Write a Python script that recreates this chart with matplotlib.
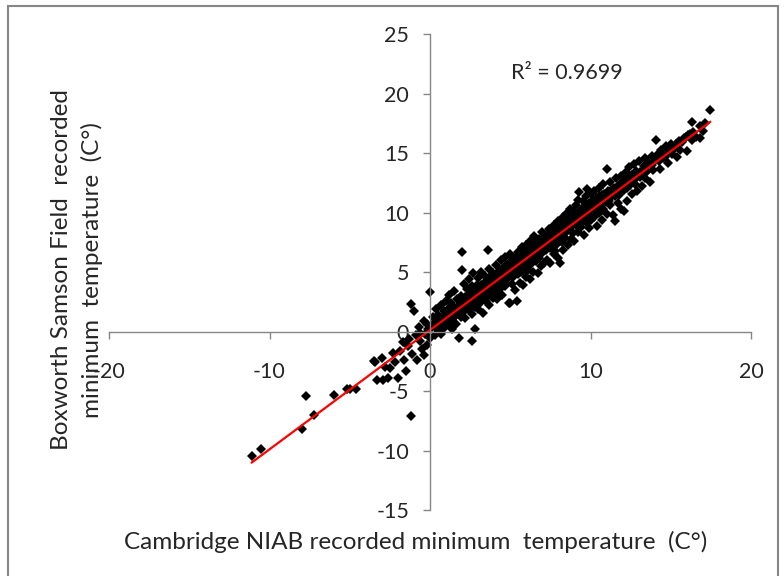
#!/usr/bin/env python3

import numpy as np
import matplotlib
matplotlib.use("Agg")
import matplotlib.pyplot as plt
from matplotlib.patches import Rectangle

# Daily minimum temperatures (C), Cambridge NIAB (x) vs Boxworth Samson Field (y)
cold_days = [(-11.1, -10.5), (-10.5, -9.9), (-8.0, -8.2), (-7.7, -5.4), (-7.2, -7.0),
             (-6.0, -5.3), (-5.2, -4.8), (-5.0, -4.8), (-4.6, -4.8), (-1.2, -7.1),
             (-3.5, -2.5)]

frost_days = [(-3.4, -2.6), (-3.3, -4.1), (-2.9, -4.1), (-2.6, -3.9), (-2.0, -3.9),
              (-2.5, -3.1), (-2.2, -2.6), (-3.0, -2.2), (-2.8, -3.0), (-1.9, -1.6),
              (-1.6, -2.4), (-1.4, -1.2), (-1.3, -0.6), (-1.1, -1.9), (-0.8, -2.4),
              (-0.6, -0.8), (-0.5, -1.5), (-0.3, -0.2), (-0.2, -1.1), (-1.0, 1.7),
              (-1.2, 2.3), (-0.7, 0.4), (-0.4, 0.9), (-0.1, 0.2), (-0.9, -0.3),
              (-1.7, -0.9), (-2.3, -1.8), (-1.5, -3.3), (-0.4, -2.0), (0.0, -0.5),
              (-0.2, 0.6), (-0.6, -0.1)]

cool_days = [(0.0, 3.3), (0.1, 0.4), (0.2, 1.2), (0.3, -0.3), (0.3, 0.8), (0.4, 1.9),
             (0.5, 0.1), (0.5, 1.4), (0.6, 0.7), (0.7, 2.2), (0.7, -0.2), (0.8, 1.0),
             (0.9, 1.7), (0.9, 0.3), (1.0, 2.6), (1.0, 1.2), (1.1, 0.6), (1.1, 1.9),
             (1.2, 3.1), (1.2, 0.9), (1.3, 1.5), (1.3, 2.4), (1.4, 0.2), (1.4, 1.1),
             (1.5, 2.0), (1.5, 3.4), (1.6, 1.4), (1.6, 0.6), (1.7, 2.7), (1.7, 1.8),
             (1.8, -0.5), (1.8, 2.2), (1.9, 1.2), (1.9, 3.0), (2.0, 6.7), (2.0, 5.2),
             (2.0, 2.4), (2.0, 1.6),
             (2.1, 4.0), (2.1, 2.0), (2.2, 2.9), (2.2, 1.1), (2.3, 3.6), (2.3, 2.4),
             (2.4, 4.4), (2.4, 1.8), (2.5, 3.0), (2.5, 2.2), (2.6, -0.8), (2.6, 3.8),
             (2.6, 1.5), (2.7, 2.7), (2.7, 4.9), (2.8, 0.2), (2.8, 3.2), (2.8, 2.1),
             (2.9, 3.9), (2.9, 2.6), (3.0, 4.5), (3.0, 3.1), (3.0, 1.9), (3.1, 2.4),
             (3.1, 3.6), (3.2, 5.0), (3.2, 2.9), (3.3, 4.0), (3.3, 1.6), (3.4, 3.3),
             (3.4, 4.7), (3.5, 2.6), (3.5, 3.8), (3.6, 6.9), (3.6, 4.4), (3.6, 3.0),
             (3.7, 2.2), (3.7, 5.3), (3.8, 3.6), (3.8, 4.1), (3.9, 4.9), (3.9, 2.8),
             (4.0, 3.9), (4.0, 4.6)]

mild_days = [(4.1, 5.6), (4.1, 3.3), (4.2, 4.2), (4.2, 2.7), (4.3, 5.1), (4.3, 4.5),
             (4.4, 3.7), (4.4, 6.0), (4.5, 4.8), (4.5, 3.1), (4.6, 5.4), (4.6, 4.2),
             (4.7, 6.3), (4.7, 3.8), (4.8, 5.0), (4.8, 4.4), (4.9, 2.4), (4.9, 5.7),
             (5.0, 4.9), (5.0, 6.5), (5.0, 2.4), (5.1, 4.0), (5.1, 5.4), (5.2, 6.1),
             (5.2, 4.6), (5.3, 3.5), (5.3, 5.9), (5.4, 2.6), (5.4, 5.2), (5.5, 6.7),
             (5.5, 4.8), (5.6, 5.6), (5.6, 4.1), (5.7, 7.1), (5.7, 6.0), (5.8, 5.1),
             (5.8, 3.9), (5.9, 6.4), (5.9, 5.5), (6.0, 7.3), (6.0, 4.6), (6.0, 6.1),
             (6.1, 5.2), (6.1, 6.8), (6.2, 7.6), (6.2, 4.4), (6.3, 6.3), (6.3, 5.7),
             (6.4, 7.1), (6.4, 5.0), (6.5, 6.6), (6.5, 8.0), (6.6, 5.9), (6.6, 7.4),
             (6.7, 4.9), (6.7, 6.9), (6.8, 7.8), (6.8, 6.2), (6.9, 5.5), (6.9, 7.2),
             (7.0, 8.4), (7.0, 6.6), (7.1, 7.5), (7.1, 5.8), (7.2, 6.9), (7.2, 8.1),
             (7.3, 7.3), (7.3, 6.0), (7.4, 8.6), (7.4, 7.7), (7.5, 5.8), (7.5, 7.0),
             (7.6, 8.2), (7.6, 7.5), (7.7, 6.5), (7.7, 9.0), (7.8, 7.9), (7.8, 6.8),
             (7.9, 8.5), (7.9, 7.4), (8.0, 9.3), (8.0, 6.2), (8.1, 5.8), (8.1, 8.1)]

warm_days = [(8.2, 8.8), (8.2, 7.5), (8.3, 9.6), (8.3, 6.9), (8.4, 8.3), (8.4, 7.9),
             (8.5, 9.9), (8.5, 8.7), (8.6, 7.3), (8.6, 9.2), (8.7, 10.3), (8.7, 8.5),
             (8.8, 9.0), (8.8, 7.8), (8.9, 10.1), (8.9, 8.3), (9.0, 9.5), (9.0, 7.6),
             (9.1, 10.6), (9.1, 9.0), (9.2, 8.4), (9.2, 11.1), (9.3, 9.7), (9.3, 11.7),
             (9.4, 8.8), (9.4, 10.2), (9.5, 9.3), (9.5, 11.0), (9.6, 8.1), (9.6, 10.5),
             (9.7, 9.8), (9.7, 11.4), (9.8, 12.0), (9.8, 9.1), (9.9, 10.8), (9.9, 8.7),
             (10.0, 10.2), (10.0, 11.6), (10.0, 9.4),
             (10.1, 10.9), (10.2, 9.6), (10.2, 11.8), (10.3, 10.4), (10.4, 8.9),
             (10.4, 11.2), (10.5, 10.0), (10.5, 12.1), (10.6, 10.8), (10.7, 9.4),
             (10.7, 11.5), (10.8, 10.3), (10.8, 12.4), (10.9, 11.1), (11.0, 13.7),
             (11.0, 9.9), (11.1, 11.8), (11.2, 10.6), (11.2, 12.6), (11.3, 11.3),
             (11.4, 9.8), (11.4, 12.0), (11.5, 9.3), (11.5, 11.6), (11.6, 12.9),
             (11.7, 10.8), (11.7, 12.2), (11.8, 11.5), (11.9, 13.1), (11.9, 10.3),
             (12.0, 12.5), (12.1, 10.1), (12.1, 11.9)]

hot_days = [(12.2, 13.4), (12.3, 12.1), (12.3, 11.0), (12.4, 13.8), (12.5, 12.7),
            (12.6, 11.6), (12.6, 13.2), (12.7, 14.1), (12.8, 12.4), (12.9, 13.0),
            (12.9, 11.8), (13.0, 14.3), (13.1, 13.4), (13.2, 12.2), (13.3, 13.9),
            (13.4, 14.6), (13.4, 12.9), (13.5, 13.5), (13.6, 14.0), (13.7, 12.6),
            (13.8, 14.8), (13.9, 13.6), (14.0, 14.4),
            (14.1, 16.1), (14.2, 14.9), (14.3, 13.7), (14.4, 15.3), (14.5, 14.6),
            (14.7, 15.6), (14.8, 14.2), (14.9, 15.1), (15.0, 15.8), (15.1, 14.9),
            (15.2, 15.4), (15.4, 14.7), (15.5, 16.0), (15.6, 15.3), (15.8, 16.3),
            (16.0, 15.2), (16.1, 16.5), (16.3, 17.6), (16.3, 16.1), (16.4, 16.8),
            (16.6, 16.4), (16.8, 17.3), (16.8, 16.3), (17.0, 16.9), (17.1, 17.5),
            (17.45, 18.6)]

# the solid core of the cloud, close to the 1:1 line
core_days = [(0.45, 0.9), (0.65, 0.3), (0.85, 1.3), (1.05, 0.7), (1.25, 1.8), (1.35, 1.0),
             (1.55, 1.3), (1.75, 2.1), (1.85, 1.5), (1.95, 2.6),
             (2.15, 2.5), (2.25, 1.9), (2.35, 3.0), (2.45, 2.6), (2.55, 3.3), (2.65, 2.3),
             (2.75, 3.6), (2.85, 2.8), (2.95, 3.4), (3.05, 2.7), (3.15, 3.9), (3.25, 3.3),
             (3.35, 2.8), (3.45, 4.1), (3.55, 3.4), (3.65, 3.9), (3.75, 4.6), (3.85, 3.3),
             (3.95, 4.3),
             (4.05, 4.4), (4.15, 3.8), (4.25, 4.9), (4.35, 4.1), (4.45, 5.2), (4.55, 4.4),
             (4.65, 4.9), (4.75, 5.6), (4.85, 4.7), (4.95, 5.3), (5.05, 5.9), (5.15, 5.0),
             (5.25, 5.5), (5.35, 6.3), (5.45, 5.4), (5.55, 5.9), (5.65, 5.0), (5.75, 6.4),
             (5.85, 5.8), (5.95, 6.8),
             (6.05, 6.4), (6.15, 5.8), (6.25, 6.9), (6.35, 6.1), (6.45, 7.3), (6.55, 6.4),
             (6.65, 7.0), (6.75, 6.6), (6.85, 7.5), (6.95, 6.8), (7.05, 7.3), (7.15, 8.0),
             (7.25, 7.1), (7.35, 7.8), (7.45, 7.2), (7.55, 8.4), (7.65, 7.6), (7.75, 8.2),
             (7.85, 7.5), (7.95, 8.8),
             (8.05, 8.0), (8.15, 8.6), (8.25, 8.2), (8.35, 9.1), (8.45, 8.4), (8.55, 9.4),
             (8.65, 8.7), (8.75, 9.5), (8.85, 8.9), (8.95, 9.8), (9.05, 9.1), (9.15, 9.6),
             (9.25, 9.2), (9.35, 10.1), (9.45, 9.6), (9.55, 10.4), (9.65, 9.7), (9.75, 10.3),
             (9.85, 9.9), (9.95, 10.6),
             (10.05, 10.4), (10.15, 11.1), (10.25, 10.2), (10.35, 10.9), (10.45, 10.6),
             (10.55, 11.4), (10.65, 10.7), (10.75, 11.2), (10.85, 11.6), (10.95, 10.9),
             (11.05, 11.4), (11.15, 11.0), (11.25, 11.8), (11.35, 11.5), (11.45, 12.1),
             (11.55, 11.4), (11.65, 12.0), (11.75, 11.7), (11.85, 12.4), (11.95, 11.8),
             (12.05, 12.2), (12.15, 12.9), (12.25, 12.4), (12.45, 12.3), (12.55, 13.1),
             (12.75, 12.9), (12.85, 13.5), (13.05, 13.0), (13.25, 13.6), (13.45, 13.4),
             (13.65, 14.2), (13.85, 14.0), (14.05, 14.6), (14.25, 14.3), (14.45, 14.9),
             (14.65, 14.7), (14.85, 15.4), (15.05, 15.2), (15.3, 15.8), (15.7, 15.9),
             (15.95, 16.4), (16.2, 16.6)]

r2_label = "R\u00b2 = 0.9699"
x_label = "Cambridge NIAB recorded minimum  temperature  (C\u00b0)"
y_label = "Boxworth Samson Field  recorded\nminimum  temperature  (C\u00b0)"
x_ticks = [-20, -10, 0, 10, 20]
y_ticks = [-15, -10, -5, 0, 5, 10, 15, 20, 25]

plt.rcParams["font.family"] = ["Lato", "DejaVu Sans"]
plt.rcParams["axes.unicode_minus"] = False

grey = "#868686"
ink = "#262626"

points = np.array(cold_days + frost_days + cool_days + mild_days
                  + warm_days + hot_days + core_days)
x, y = points[:, 0], points[:, 1]

fig = plt.figure(figsize=(7.84, 5.76), dpi=100)
ax = fig.add_axes([0.139, 0.1146, 0.819, 0.826])

ax.plot(x, y, linestyle="none", marker="D", markersize=5.2,
        color="black", markeredgewidth=0)

# linear trendline across the data range
slope, intercept = np.polyfit(x, y, 1)
xs = np.array([x.min(), x.max()])
ax.plot(xs, slope * xs + intercept, color="red", linewidth=1.6)

ax.set_xlim(-20, 20)
ax.set_ylim(-15, 25)
ax.set_xticks(x_ticks)
ax.set_yticks(y_ticks)

# axes cross at the origin like the Excel chart
ax.spines["left"].set_position(("data", 0))
ax.spines["bottom"].set_position(("data", 0))
ax.spines["top"].set_visible(False)
ax.spines["right"].set_visible(False)
for side in ["left", "bottom"]:
    ax.spines[side].set_color(grey)
    ax.spines[side].set_linewidth(1.0)
ax.tick_params(axis="both", direction="out", length=5, width=1.0, color=grey,
               labelsize=15.5, labelcolor=ink)
ax.tick_params(axis="x", pad=17)
ax.tick_params(axis="y", pad=10)

ax.text(8.5, 21.7, r2_label, fontsize=15.5, color=ink, ha="center", va="center")

fig.text(416 / 784, (576 - 549) / 576, x_label, fontsize=17.5, color=ink,
         ha="center", va="baseline")
fig.text(77 / 784, 1 - 270 / 576, y_label, fontsize=17.5, color=ink,
         ha="center", va="center", rotation=90, multialignment="center",
         linespacing=1.45)

# chart area border (bottom edge falls outside the picture)
fig.add_artist(Rectangle((7.5 / 784, -0.05), 770 / 784, (576 - 5.5) / 576 + 0.05,
                         transform=fig.transFigure, fill=False,
                         edgecolor=grey, linewidth=1.5))

fig.savefig("out.png", dpi=100)
